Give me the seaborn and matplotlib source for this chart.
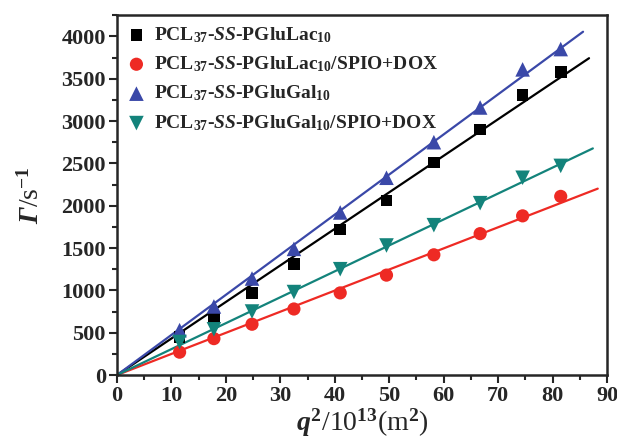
import numpy as np
import pandas as pd
import matplotlib
matplotlib.use("Agg")
import matplotlib.pyplot as plt
import seaborn as sns
from matplotlib.ticker import MultipleLocator

# ---- data ----
q2 = [11.5, 17.8, 24.8, 32.5, 41.0, 49.5, 58.2, 66.7, 74.5, 81.5]
lac = [450, 680, 970, 1310, 1720, 2060, 2510, 2900, 3310, 3580]
lac_dox = [270, 430, 600, 780, 970, 1180, 1420, 1670, 1880, 2110]
gal = [530, 810, 1140, 1490, 1920, 2330, 2750, 3160, 3610, 3850]
gal_dox = [390, 540, 750, 980, 1250, 1530, 1770, 2030, 2330, 2470]
fit_end = [86.7, 88.3, 85.6, 87.4]

labels = [r"PCL$_{37}$-$\mathit{SS}$-PGluLac$_{10}$",
          r"PCL$_{37}$-$\mathit{SS}$-PGluLac$_{10}$/SPIO+DOX",
          r"PCL$_{37}$-$\mathit{SS}$-PGluGal$_{10}$",
          r"PCL$_{37}$-$\mathit{SS}$-PGluGal$_{10}$/SPIO+DOX"]
series = [lac, lac_dox, gal, gal_dox]
colors = ["#000000", "#EE2A24", "#3A48A8", "#13837B"]
markers = ["s", "o", "^", "v"]
sizes = [70, 90, 110, 110]

sns.set_style("ticks")
plt.rcParams["font.family"] = ["Liberation Serif", "DejaVu Serif"]
plt.rcParams["font.weight"] = "bold"
plt.rcParams["mathtext.fontset"] = "custom"
plt.rcParams["mathtext.rm"] = "Liberation Serif:bold"
plt.rcParams["mathtext.bf"] = "Liberation Serif:bold"
plt.rcParams["mathtext.it"] = "Liberation Serif:italic:bold"
plt.rcParams["mathtext.sf"] = "Liberation Serif:italic:bold"

fig = plt.figure(figsize=(6.17, 4.47), dpi=100)
ax = fig.add_axes([0.1896, 0.161, 0.7942, 0.805])

x = np.array(q2)
for ys, c, m, s, lab, xe in zip(series, colors, markers, sizes, labels, fit_end):
    y = np.array(ys, dtype=float)
    k = np.sum(x * y) / np.sum(x * x)
    fx = np.array([0.0, xe])
    sns.lineplot(x=fx, y=k * fx, ax=ax, color=c, lw=1.6, legend=False)
    sns.scatterplot(x=x, y=y, ax=ax, color=c, marker=m, s=s, edgecolor="none",
                    label=lab, zorder=3)

ax.set_xlim(0, 90)
ax.set_ylim(0, 4250)
ax.xaxis.set_major_locator(MultipleLocator(10))
ax.xaxis.set_minor_locator(MultipleLocator(5))
ax.yaxis.set_major_locator(MultipleLocator(500))
ax.yaxis.set_minor_locator(MultipleLocator(250))
ax.tick_params(which="major", direction="out", length=6, width=1.5, labelsize=16, pad=2)
ax.tick_params(which="minor", direction="out", length=3.5, width=1.5)
for lbl in ax.get_xticklabels() + ax.get_yticklabels():
    lbl.set_fontweight("bold")
for sp in ax.spines.values():
    sp.set_linewidth(1.8)
    sp.set_visible(True)

ax.set_xlabel(r"$\mathit{q}^{2}$/10$^{13}$(m$^{2}$)", fontsize=20, labelpad=0)
ax.set_ylabel(r"$\mathsf{Γ}$/s$^{-1}$", fontsize=20, labelpad=12)

leg = ax.legend(loc="upper left", frameon=False, fontsize=14, handletextpad=0.4,
                labelspacing=0.5, borderaxespad=0.2, handlelength=1.0,
                borderpad=0.3)
for t in leg.get_texts():
    t.set_fontweight("bold")

fig.savefig("out.png", dpi=100)
